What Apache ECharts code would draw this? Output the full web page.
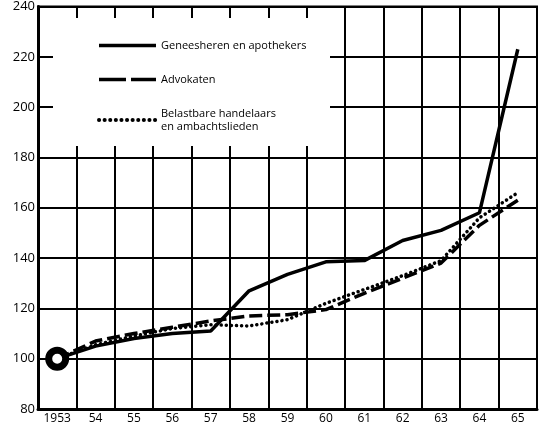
<!DOCTYPE html>
<html>
<head>
<meta charset="utf-8">
<script src="https://cdn.jsdelivr.net/npm/echarts@6/dist/echarts.min.js"></script>
<style>
  html, body { margin: 0; padding: 0; background: #fff; }
  #chart { width: 539px; height: 429px; }
</style>
</head>
<body>
<div id="chart"></div>
<script>
// jaren (as) en indexcijfers, 1953 = 100
const years = ['1953', '54', '55', '56', '57', '58', '59', '60', '61', '62', '63', '64', '65']
const geneesheren = [100, 105, 108, 110, 111, 127, 133.5, 138.5, 139, 147, 151, 158, 223]
const advokaten = [100, 107, 110, 112.5, 115, 117, 117.5, 119.5, 126, 132, 138, 153, 163]
const handelaars = [100, 105.5, 109, 112, 113.5, 113, 115.5, 122, 127.5, 133, 139, 156, 166]
const seriesNames = ['Geneesheren en apothekers', 'Advokaten', 'Belastbare handelaars\nen ambachtslieden']

const FONT = '"Open Sans", "DejaVu Sans", sans-serif'
const chart = echarts.init(document.getElementById('chart'))

const option = {
  backgroundColor: '#fff',
  animation: false,
  color: ['#000', '#000', '#000', '#000'],
  grid: {
    left: 38, right: 2, top: 6, bottom: 20,
    show: true, borderColor: '#000', borderWidth: 2
  },
  xAxis: {
    type: 'category',
    data: years,
    boundaryGap: true,
    axisLine: { lineStyle: { color: '#000', width: 3 } },
    axisTick: { show: false },
    axisLabel: { color: '#000', fontFamily: FONT, fontSize: 12, fontWeight: 500, margin: 4 },
    splitLine: { show: true, lineStyle: { color: '#000', width: 2 } }
  },
  yAxis: {
    type: 'value',
    min: 80, max: 240, interval: 20,
    axisLine: { show: true, lineStyle: { color: '#000', width: 3 } },
    axisTick: { show: false },
    axisLabel: { color: '#000', fontFamily: FONT, fontSize: 13, fontWeight: 500, margin: 3 },
    splitLine: { show: true, lineStyle: { color: '#000', width: 2 } }
  },
  legend: {
    orient: 'vertical',
    left: 97, top: 39, padding: 0,
    itemWidth: 57, itemHeight: 14, itemGap: 21,
    data: [
      { name: seriesNames[0] },
      { name: seriesNames[1], lineStyle: { type: [27, 5] } },
      { name: seriesNames[2], lineStyle: { type: [0.1, 5.5], cap: 'round', width: 4 } }
    ],
    itemStyle: { opacity: 0 },
    lineStyle: { width: 3.5 },
    textStyle: { color: '#000', fontFamily: FONT, fontSize: 11, lineHeight: 13 }
  },
  // witte vlak achter de legenda
  graphic: [{
    type: 'rect', z: 1,
    shape: { x: 53, y: 18, width: 277, height: 128 },
    style: { fill: '#fff' }
  }],
  series: [
    {
      name: seriesNames[0], type: 'line', data: geneesheren,
      symbol: 'none', z: 3,
      lineStyle: { color: '#000', width: 3.5 }
    },
    {
      name: seriesNames[1], type: 'line', data: advokaten,
      symbol: 'none', z: 2,
      lineStyle: { color: '#000', width: 3.5, type: [13, 5] }
    },
    {
      name: seriesNames[2], type: 'line', data: handelaars,
      symbol: 'none', z: 2,
      lineStyle: { color: '#000', width: 3.5, type: [0.1, 5], cap: 'round' }
    },
    {
      // startpunt 1953 = 100
      type: 'scatter', z: 5,
      data: [[years[0], geneesheren[0]]],
      symbol: 'circle', symbolSize: 17,
      itemStyle: { color: '#fff', borderColor: '#000', borderWidth: 7, opacity: 1 }
    }
  ]
}

chart.setOption(option)
</script>
</body>
</html>
